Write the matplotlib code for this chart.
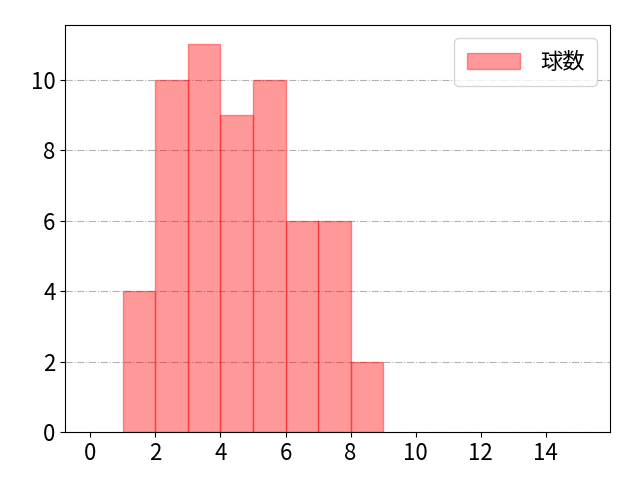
import numpy as np
import matplotlib
matplotlib.use("Agg")
import matplotlib.pyplot as plt

plt.rcParams['font.family'] = ['Noto Sans CJK JP', 'DejaVu Sans']
plt.rcParams['font.size'] = 16

# bin edges and counts
bin_edges = [1, 2, 3, 4, 5, 6, 7, 8, 9]
counts = [4, 10, 11, 9, 10, 6, 6, 2]
label = "球数"

fig, ax = plt.subplots(figsize=(6.4, 4.8), dpi=100)
fig.subplots_adjust(left=0.102, right=0.953, top=0.948, bottom=0.1)

ax.hist(bin_edges[:-1], bins=bin_edges, weights=counts,
        color='red', alpha=0.4, edgecolor='red', linewidth=1, label=label)

ax.set_xlim(-0.77, 15.97)
ax.set_ylim(0, 11.55)
ax.set_xticks(np.arange(0, 16, 2))
ax.set_yticks(np.arange(0, 12, 2))
ax.grid(axis='y', linestyle='-.', color='gray', alpha=0.6, linewidth=0.8)
ax.set_axisbelow(True)

ax.legend(loc='upper right', handlelength=2.4, handletextpad=0.9,
          borderpad=0.55, borderaxespad=0.6)

plt.savefig("out.png")
